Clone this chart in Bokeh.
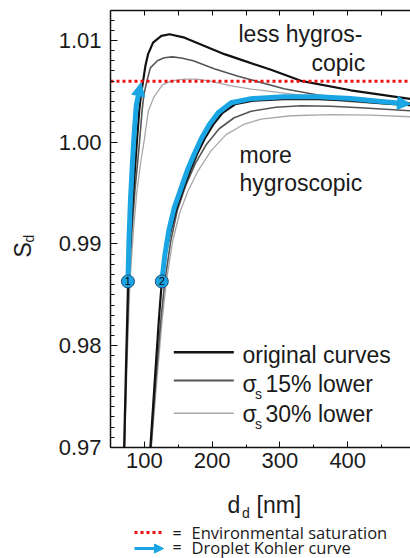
import numpy as np
from bokeh.plotting import figure
from bokeh.layouts import row, column
from bokeh.models import Range1d, LinearAxis, FixedTicker, Label, Arrow, NormalHead
from bokeh.embed import file_html
from bokeh.resources import INLINE
from bokeh.core.properties import value

# ---------------- data ----------------
# particle 1, original curve
p1_orig_d = [68.7, 70.1, 73.1, 76.0, 80.1, 83.8, 89.0, 92.4, 94.9, 98.1, 101.5, 105.4, 112.8,
             125.0, 137.2, 159.3, 188.7, 218.1, 247.5, 286.8, 330.9, 404.4, 492.6, 500.0]
p1_orig_s = [0.966, 0.9700, 0.9786, 0.9863, 0.9913, 0.9952, 1.0001, 1.0031, 1.0046, 1.0060, 1.0075,
             1.00865, 1.00978, 1.01044, 1.01061, 1.01027, 1.00946, 1.00865, 1.00799, 1.00711,
             1.00603, 1.0051, 1.00426, 1.00418]
# particle 1, sigma_s 15% lower
p1_15_d = [69.3, 70.6, 73.8, 77.2, 81.6, 86.0, 92.6, 96.6, 99.3, 103.7, 108.8, 119.1, 129.4,
           141.2, 154.4, 172.1, 202.9, 238.2, 257.4, 305.9, 355.9, 404.4, 492.6, 500.0]
p1_15_s = [0.966, 0.9700, 0.9786, 0.9863, 0.9913, 0.9952, 0.99985, 1.0031, 1.0047, 1.0060, 1.0073,
           1.0080, 1.0083, 1.00838, 1.00828, 1.0080, 1.00721, 1.00647, 1.00613, 1.00525, 1.00463,
           1.00426, 1.00387, 1.00383]
# particle 1, sigma_s 30% lower
p1_30_d = [69.6, 70.9, 74.6, 78.7, 83.8, 89.0, 94.9, 99.0, 105.9, 113.7, 126.5, 139.7, 158.8,
           176.5, 195.6, 227.9, 257.4, 305.9, 355.9, 404.4, 492.6, 500.0]
p1_30_s = [0.966, 0.9700, 0.9786, 0.9863, 0.9913, 0.9952, 0.9982, 0.99985, 1.0031, 1.0044, 1.00564,
           1.00603, 1.0062, 1.0062, 1.00603, 1.00554, 1.00522, 1.00482, 1.00439, 1.00397, 1.00358,
           1.00352]
# particle 2, original curve
p2_orig_d = [106.6, 108.8, 115.4, 121.3, 125.7, 132.4, 139.0, 147.8, 158.1, 167.6, 177.9, 189.0,
             201.5, 215.4, 233.8, 260.3, 305.9, 355.9, 404.4, 452.9, 492.6, 500.0]
p2_orig_s = [0.9668, 0.9700, 0.97662, 0.9825, 0.98632, 0.98936, 0.99132, 0.99358, 0.99554, 0.99721,
             0.99884, 1.00034, 1.00172, 1.00289, 1.00373, 1.00407, 1.00422, 1.00422, 1.00407,
             1.00382, 1.00363, 1.0036]
# particle 2, sigma_s 15% lower
p2_15_d = [108.0, 109.7, 116.9, 124.3, 130.1, 139.0, 148.5, 161.0, 175.0, 191.2, 210.3, 232.4,
           257.4, 294.1, 330.9, 375.0, 419.1, 492.6, 500.0]
p2_15_s = [0.9668, 0.9700, 0.97662, 0.9825, 0.98632, 0.99034, 0.99328, 0.99574, 0.99789, 0.99975,
           1.00132, 1.0024, 1.00304, 1.00343, 1.00358, 1.00353, 1.00338, 1.00309, 1.00303]
# particle 2, sigma_s 30% lower
p2_30_d = [108.6, 110.3, 118.4, 126.2, 132.4, 141.9, 152.2, 164.7, 179.4, 198.5, 220.6, 245.6,
           272.1, 316.2, 375.0, 433.8, 492.6, 500.0]
p2_30_s = [0.9668, 0.9700, 0.97662, 0.9825, 0.98632, 0.99034, 0.99309, 0.99525, 0.99721, 0.99917,
           1.00074, 1.00172, 1.00227, 1.0026, 1.0027, 1.00265, 1.0025, 1.00245]

# droplet Kohler paths (blue), start at the numbered points, end in an arrow tip
blue1_d = [75.7, 77.2, 79.4, 82.1, 84.7, 87.9]
blue1_s = [0.98632, 0.99034, 0.99426, 0.99770, 1.00064, 1.00358]
blue1_tip = (94.9, 1.00583)
blue2_d = [125.7, 130.1, 136.0, 144.1, 154.4, 163.2, 173.5, 183.8, 195.6, 208.8, 227.9, 257.4,
           305.9, 355.9, 404.4, 452.9]
blue2_s = [0.98632, 0.98887, 0.99132, 0.99358, 0.99554, 0.99721, 0.99884, 1.00034, 1.00172,
           1.00289, 1.00387, 1.00428, 1.00446, 1.00446, 1.00429, 1.00397]
blue2_tip = (492.6, 1.00375)
point_labels = ["1", "2"]

s_env = 1.006  # environmental saturation

x_ticks = [100, 200, 300, 400]
x_tick_labels = ["100", "200", "300", "400"]
y_ticks = [0.97, 0.98, 0.99, 1.00, 1.01]
y_tick_labels = ["0.97", "0.98", "0.99", "1.00", "1.01"]

X_LO, X_HI = 50, 492.6
Y_LO, Y_HI = 0.97, 1.01294

# ---------------- styles ----------------
BLUE = "#1AA6E4"
RED = "#EE1111"
BLACK = "#111111"
DGRAY = "#555555"
LGRAY = "#A8A8A8"
FONT = "Liberation Sans"
TXT = "#1a1a1a"


def blank(w, h):
    f = figure(width=w, height=h, x_range=Range1d(0, 1), y_range=Range1d(0, 1),
               output_backend="svg", toolbar_location=None,
               x_axis_location=None, y_axis_location=None,
               min_border_left=0, min_border_right=0, min_border_top=0, min_border_bottom=0)
    f.outline_line_color = None
    f.grid.visible = False
    return f


def lab(fig, x, y, t, size="23px", font=FONT, angle=0.0, align="left"):
    fig.add_layout(Label(x=x, y=y, x_units="screen", y_units="screen", text=t, text_font=font,
                         text_font_size=size, text_color=TXT, angle=angle, text_align=align,
                         text_baseline="alphabetic"))


# ---------------- main plot ----------------
p = figure(width=355, height=479, x_range=Range1d(X_LO, X_HI), y_range=Range1d(Y_LO, Y_HI),
           output_backend="svg", toolbar_location=None,
           min_border_left=54, min_border_right=0, min_border_top=10, min_border_bottom=32)
p.outline_line_color = None
p.xgrid.visible = False
p.ygrid.visible = False
p.background_fill_color = "white"
p.border_fill_color = "white"

xa = p.xaxis[0]
xa.ticker = FixedTicker(ticks=x_ticks, minor_ticks=list(np.arange(50, 500, 50)))
xa.major_label_overrides = {t: l for t, l in zip(x_ticks, x_tick_labels)}
ya = p.yaxis[0]
ya.ticker = FixedTicker(ticks=y_ticks, minor_ticks=[round(v, 3) for v in np.arange(0.970, 1.013, 0.001)])
ya.major_label_overrides = {t: l for t, l in zip(y_ticks, y_tick_labels)}
for ax in (xa, ya):
    ax.axis_line_width = 1.5
    ax.axis_line_color = BLACK
    ax.major_tick_out = 0
    ax.minor_tick_out = 0
    ax.major_tick_line_color = BLACK
    ax.minor_tick_line_color = BLACK
    ax.major_label_text_font = FONT
    ax.major_label_text_font_size = "22px"
    ax.major_label_text_color = TXT
xa.major_tick_in = 6
xa.minor_tick_in = 3
xa.major_label_standoff = 5
ya.major_tick_in = 7
ya.minor_tick_in = 4
ya.major_label_standoff = 9

top = LinearAxis(ticker=FixedTicker(ticks=list(np.arange(50, 500, 50))))
top.axis_line_width = 1.5
top.axis_line_color = BLACK
top.major_tick_in = 5
top.major_tick_out = 0
top.minor_tick_in = 0
top.minor_tick_out = 0
top.major_label_text_font_size = "1px"
top.major_label_text_color = None
top.major_label_standoff = 0
p.add_layout(top, "above")

# curves
for d, s, c, w in [(p1_30_d, p1_30_s, LGRAY, 1.3), (p2_30_d, p2_30_s, LGRAY, 1.3),
                   (p1_15_d, p1_15_s, DGRAY, 1.6), (p2_15_d, p2_15_s, DGRAY, 1.6),
                   (p1_orig_d, p1_orig_s, BLACK, 2.2), (p2_orig_d, p2_orig_s, BLACK, 2.2)]:
    p.line(d, s, line_color=c, line_width=w, line_join="round")

# environmental saturation
p.line([X_LO, X_HI], [s_env, s_env], line_color=RED, line_width=3, line_dash="3 3")

# droplet paths
for d, s, tip in [(blue1_d, blue1_s, blue1_tip), (blue2_d, blue2_s, blue2_tip)]:
    p.line(d, s, line_color=BLUE, line_width=5, line_join="round", line_cap="round")
    p.add_layout(Arrow(x_start=d[-1], y_start=s[-1], x_end=tip[0], y_end=tip[1],
                       line_color=BLUE, line_width=5,
                       end=NormalHead(size=13, fill_color=BLUE, line_color=BLUE, line_width=1)))

start_d = [blue1_d[0], blue2_d[0]]
start_s = [blue1_s[0], blue2_s[0]]
p.scatter(start_d, start_s, marker="circle", size=13, fill_color=BLUE, line_color="#1F4E79", line_width=1)
p.text(start_d, start_s, text=point_labels, text_font=value(FONT), text_font_size="11px",
       text_align="center", text_baseline="middle", text_color="black")

# in-plot annotations (screen px relative to the frame's bottom-left)
lab(p, 128, 413.5, "less hygros-")
lab(p, 201, 385, "copic")
lab(p, 129, 293, "more")
lab(p, 129, 265, "hygroscopic")

# in-plot legend
for y, c, w in [(95.3, BLACK, 2.5), (67, DGRAY, 2.2), (34.3, LGRAY, 1.5)]:
    p.add_layout(Arrow(x_start=63.3, y_start=y, x_end=123.3, y_end=y, start_units="screen",
                       end_units="screen", start=None, end=None, line_color=c, line_width=w))
lab(p, 132, 92.5, "original curves")
lab(p, 132, 64, "σ")
lab(p, 144.5, 54, "s", size="14px")
lab(p, 155, 64, "15% lower")
lab(p, 132, 34, "σ")
lab(p, 144.5, 24, "s", size="14px")
lab(p, 155, 34, "30% lower")

# ---------------- y-axis title panel ----------------
yl = blank(55, 558)
lab(yl, 22, 301, "S", angle=np.pi / 2)
lab(yl, 28.5, 316, "d", size="14px", angle=np.pi / 2)

# ---------------- x-axis title + key panel (frame aligned with the plot frame) ----------------
bot = blank(355, 79)
lab(bot, 117, 54, "d")
lab(bot, 131.5, 46, "d", size="14px")
lab(bot, 146, 54, "[nm]")
bot.add_layout(Arrow(x_start=24, y_start=26, x_end=51, y_end=26, start_units="screen",
                     end_units="screen", start=None, end=None, line_color=RED, line_width=3,
                     line_dash="3 3"))
bot.add_layout(Arrow(x_start=24, y_start=10, x_end=53, y_end=10, start_units="screen",
                     end_units="screen", start=None, line_color=BLUE, line_width=3,
                     end=NormalHead(size=9, fill_color=BLUE, line_color=BLUE, line_width=1)))
lab(bot, 62, 26, "=", size="16px", font="Open Sans")
lab(bot, 81, 26, "Environmental saturation", size="16.5px", font="Open Sans")
lab(bot, 62, 11.5, "=", size="16px", font="Open Sans")
lab(bot, 81, 11.5, "Droplet Kohler curve", size="16.5px", font="Open Sans")

layout = row(yl, column(p, bot))

open("out.html", "w").write(file_html(layout, INLINE))
